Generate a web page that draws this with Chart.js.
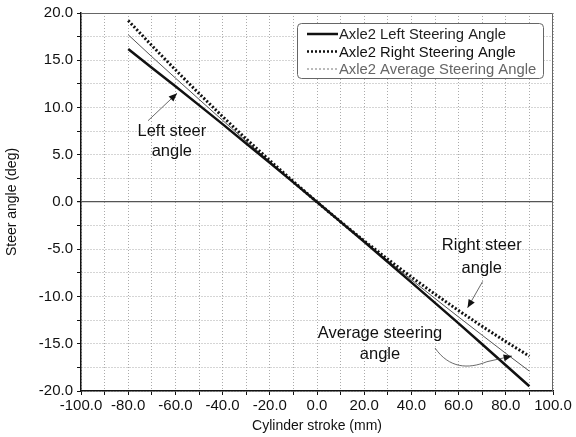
<!DOCTYPE html>
<html>
<head>
<meta charset="utf-8">
<script src="https://cdn.jsdelivr.net/npm/chart.js@4.4.1/dist/chart.umd.min.js"></script>
<style>
  html, body { margin: 0; padding: 0; background: #fff; }
  #wrap { width: 576px; height: 437px; }
</style>
</head>
<body>
<div id="wrap"><canvas id="steer"></canvas></div>
<script>
// cylinder stroke (mm) and steer angles (deg)
const strokeMm = [-80, -70, -60, -50, -40, -30, -20, -10, 0, 10, 20, 30, 40, 50, 60, 70, 80, 90];
const leftAngle = [16.2, 14.2, 12.25, 10.25, 8.24, 6.2, 4.15, 2.08, 0, -2.1, -4.2, -6.35, -8.5, -10.67, -12.85, -15.05, -17.27, -19.5];
const rightAngle = [19.2, 16.56, 13.99, 11.48, 9.04, 6.68, 4.39, 2.16, 0, -2.09, -4.11, -6.06, -7.94, -9.75, -11.49, -13.16, -14.77, -16.31];
const avgAngle = [17.7, 15.38, 13.12, 10.87, 8.64, 6.44, 4.27, 2.12, 0, -2.1, -4.16, -6.2, -8.22, -10.21, -12.17, -14.1, -16.02, -17.9];
const seriesLabels = ['Axle2 Left Steering Angle', 'Axle2 Right Steering Angle', 'Axle2 Average Steering Angle'];

const toPoints = ys => strokeMm.map((x, i) => ({ x: x, y: ys[i] }));

// callout texts, placed in data units
const notes = [
    { lines: ['Left steer', 'angle'], x: -61.5, y: [7.5, 5.3] },
    { lines: ['Right steer', 'angle'], x: 69.8, y: [-4.65, -7.0] },
    { lines: ['Average steering', 'angle'], x: 26.7, y: [-13.95, -16.1] }
];

const legendStyle = [
    { color: '#111', width: 2.5, dash: [], text: '#222' },
    { color: '#111', width: 2.5, dash: [2, 2], text: '#111' },
    { color: '#777', width: 1, dash: [2, 2], text: '#666' }
];

const FONT = '"Liberation Sans", Arial, sans-serif';

function arrowHead(ctx, x0, y0, x1, y1) {
    const a = Math.atan2(y1 - y0, x1 - x0);
    const len = 9, half = 0.4;
    ctx.beginPath();
    ctx.moveTo(x1, y1);
    ctx.lineTo(x1 - len * Math.cos(a - half), y1 - len * Math.sin(a - half));
    ctx.lineTo(x1 - len * Math.cos(a + half), y1 - len * Math.sin(a + half));
    ctx.closePath();
    ctx.fill();
}

const extras = {
    id: 'extras',
    afterDraw(chart) {
        const ctx = chart.ctx;
        const xs = chart.scales.x, ys = chart.scales.y;
        const area = chart.chartArea;
        const px = v => xs.getPixelForValue(v), py = v => ys.getPixelForValue(v);
        ctx.save();

        // top and right frame
        ctx.strokeStyle = '#666';
        ctx.lineWidth = 1;
        ctx.beginPath();
        ctx.moveTo(area.left, area.top + 0.5);
        ctx.lineTo(area.right - 0.5, area.top + 0.5);
        ctx.lineTo(area.right - 0.5, area.bottom);
        ctx.stroke();

        // callout texts
        ctx.fillStyle = '#111';
        ctx.font = '16.5px ' + FONT;
        ctx.textAlign = 'center';
        ctx.textBaseline = 'middle';
        notes.forEach(n => {
            n.lines.forEach((t, i) => ctx.fillText(t, px(n.x), py(n.y[i])));
        });

        // arrows
        ctx.strokeStyle = '#444';
        ctx.fillStyle = '#111';
        ctx.lineWidth = 0.8;

        let x0 = px(-71.6), y0 = py(8.6), x1 = px(-59.3), y1 = py(11.5);
        ctx.beginPath(); ctx.moveTo(x0, y0); ctx.lineTo(x1, y1); ctx.stroke();
        arrowHead(ctx, x0, y0, x1, y1);

        x0 = px(70.2); y0 = py(-8.4); x1 = px(63.8); y1 = py(-11.2);
        ctx.beginPath(); ctx.moveTo(x0, y0); ctx.lineTo(x1, y1); ctx.stroke();
        arrowHead(ctx, x0, y0, x1, y1);

        x0 = px(50); y0 = py(-15.45); x1 = px(82.6); y1 = py(-16.3);
        ctx.beginPath();
        ctx.moveTo(x0, y0);
        ctx.bezierCurveTo(px(56), py(-17.6), px(64), py(-17.7), px(72), py(-16.9));
        ctx.lineTo(x1, y1);
        ctx.stroke();
        arrowHead(ctx, px(72), py(-16.9), x1, y1);

        // legend box
        const bx = 297, by = 23, bw = 246, bh = 55;
        ctx.fillStyle = '#fff';
        ctx.strokeStyle = '#666';
        ctx.lineWidth = 1;
        ctx.beginPath();
        ctx.roundRect(bx + 0.5, by + 0.5, bw, bh, 4);
        ctx.fill();
        ctx.stroke();

        ctx.font = '14.8px ' + FONT;
        ctx.textAlign = 'left';
        chart.data.datasets.forEach((ds, i) => {
            const st = legendStyle[i];
            const ly = by + 11 + i * 17.5;
            ctx.strokeStyle = st.color;
            ctx.lineWidth = st.width;
            ctx.setLineDash(st.dash);
            ctx.beginPath();
            ctx.moveTo(bx + 10, ly);
            ctx.lineTo(bx + 41, ly);
            ctx.stroke();
            ctx.setLineDash([]);
            ctx.fillStyle = st.text;
            ctx.fillText(ds.label, bx + 42, ly + 1);
        });

        ctx.restore();
    }
};

const tickFont = { family: FONT, size: 15 };
const titleFont = { family: FONT, size: 14 };

new Chart(document.getElementById('steer'), {
    type: 'line',
    data: {
        datasets: [{
            label: seriesLabels[0],
            data: toPoints(leftAngle),
            borderColor: '#111',
            borderWidth: 2.5,
            pointRadius: 0
        }, {
            label: seriesLabels[1],
            data: toPoints(rightAngle),
            borderColor: '#111',
            borderWidth: 3,
            borderDash: [2, 2],
            pointRadius: 0
        }, {
            label: seriesLabels[2],
            data: toPoints(avgAngle),
            borderColor: '#555',
            borderWidth: 1,
            pointRadius: 0
        }]
    },
    options: {
        responsive: true,
        maintainAspectRatio: false,
        animation: false,
        layout: { padding: { top: 13, right: 23, left: 0, bottom: 0 } },
        plugins: {
            legend: { display: false },
            tooltip: { enabled: false }
        },
        scales: {
            x: {
                type: 'linear',
                min: -100,
                max: 100,
                afterFit: s => { s.height = 46; },
                ticks: {
                    stepSize: 10,
                    autoSkip: false,
                    maxRotation: 0,
                    color: '#111',
                    font: tickFont,
                    padding: 2,
                    callback: v => (v % 20 === 0 ? v.toFixed(1) : '')
                },
                grid: {
                    color: '#aaa',
                    lineWidth: 1,
                    tickLength: 4,
                    tickColor: '#111',
                    tickBorderDash: []
                },
                border: {
                    color: '#111',
                    width: 1.5,
                    dash: [1, 2]
                },
                title: {
                    display: true,
                    text: 'Cylinder stroke (mm)',
                    color: '#111',
                    font: titleFont,
                    padding: { top: 0, bottom: 2 }
                }
            },
            y: {
                min: -20,
                max: 20,
                afterFit: s => { s.width = 81; },
                ticks: {
                    stepSize: 2.5,
                    autoSkip: false,
                    color: '#111',
                    font: tickFont,
                    padding: 4,
                    callback: v => (v % 5 === 0 ? v.toFixed(1) : '')
                },
                grid: {
                    color: ctx => (ctx.tick && ctx.tick.value === 0 ? '#555' : '#aaa'),
                    lineWidth: ctx => (ctx.tick && ctx.tick.value === 0 ? 1.2 : 1),
                    tickLength: 4,
                    tickColor: '#111',
                    tickBorderDash: []
                },
                border: {
                    color: '#111',
                    width: 1.5,
                    dash: ctx => (ctx.tick && ctx.tick.value === 0 ? [] : [1, 2])
                },
                title: {
                    display: true,
                    text: 'Steer angle (deg)',
                    color: '#111',
                    font: titleFont,
                    padding: { top: 4, bottom: 0 }
                }
            }
        }
    },
    plugins: [extras]
});
</script>
</body>
</html>
